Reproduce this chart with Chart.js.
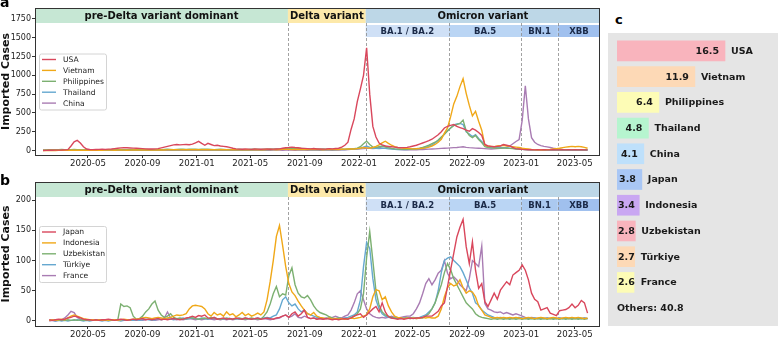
<!DOCTYPE html>
<html><head><meta charset="utf-8">
<script src="https://cdn.jsdelivr.net/npm/chart.js@4.4.1/dist/chart.umd.min.js"></script>
<style>
html,body{margin:0;padding:0;background:#fff}
body{width:778px;height:338px;position:relative;overflow:hidden;font-family:'DejaVu Sans',sans-serif}
canvas{position:absolute;display:block}
.pl{position:absolute;font-weight:bold;font-family:'DejaVu Sans';color:#000;line-height:16px;font-size:14px}
#cbox{position:absolute;left:608px;top:33px;width:170px;height:293px;background:#e5e5e5}
</style></head><body>
<canvas id="ca" width="605" height="172" style="left:0;top:0"></canvas>
<canvas id="cb" width="605" height="166" style="left:0;top:172px"></canvas>
<div id="cbox"></div>
<canvas id="cc" width="170" height="293" style="left:608px;top:33px"></canvas>
<div class="pl" style="left:0;top:-6px">a</div>
<div class="pl" style="left:0;top:172px">b</div>
<div class="pl" style="left:615px;top:12px;font-size:13px">c</div>
<script>
// ---------- data ----------
const START_DAY = '2020-01-21';          // first weekly observation
const xTickMonths = ['2020-05','2020-09','2021-01','2021-05','2021-09','2022-01','2022-05','2022-09','2023-01','2023-05'];
const yTicksA = [0,250,500,750,1000,1250,1500,1750];
const yTicksB = [0,50,100,150,200];

const phaseNames  = ['pre-Delta variant dominant','Delta variant','Omicron variant'];
const phaseStarts = ['2020-01-01','2021-07-25','2022-01-16'];
const subNames    = ['BA.1 / BA.2','BA.5','BN.1','XBB'];
const subStarts   = ['2022-01-16','2022-07-22','2023-01-01','2023-03-24'];

const namesA = ['USA','Vietnam','Philippines','Thailand','China'];
const namesB = ['Japan','Indonesia','Uzbekistan','Türkiye','France'];

const usa = [0,2,3,3,5,5,6,8,12,60, 115,135,100,50,20,14,12,14,15,16, 15,18,20,25,30,35,38,36,34,32, 30,28,25,22,20,20,22,25,35,45,
 55,65,75,80,75,78,80,76,85,100, 122,95,70,95,80,65,70,60,55,50, 42,30,22,18,16,20,18,15,20,18, 16,18,20,16,18,20,22,30,36,40,
 45,40,36,30,28,25,22,26,20,22, 18,20,25,22,26,30,45,70,110,280, 420,650,820,1000,1365,750,320,180,100,75, 60,55,50,45,40,36,38,42,50,60,
 70,85,100,115,130,150,180,210,250,300, 322,335,345,320,305,290,270,256,290,270, 240,200,80,60,55,50,55,60,80,70, 60,40,25,20,15,12,10,10,8,10,
 8,10,8,8,10,8,8,10,8,10, 8,10,8,10,8,8];
const vietnam = [0,0,0,0,0,1,2,2,3,3, 4,5,4,3,3,4,5,4,3,4, 5,6,5,4,5,6,5,4,5,6, 6,5,6,7,6,5,6,8,7,6,
 8,10,12,10,8,10,12,10,9,10, 12,10,9,10,12,10,8,10,12,10, 8,9,10,8,9,10,12,10,8,10, 12,10,12,14,12,10,12,15,18,15,
 12,14,16,14,12,14,15,12,14,12, 10,12,14,12,15,14,16,18,20,22, 20,25,30,40,35,30,40,55,75,100, 123,95,70,50,40,35,30,28,25,22,
 24,26,30,35,45,60,80,110,150,230, 300,450,620,720,850,955,760,600,460,520, 390,270,70,60,55,50,60,65,70,60, 55,50,45,40,30,25,20,15,12,10,
 12,10,12,15,20,25,30,38,45,50, 55,50,55,50,42,30];
const philippines = [5,8,10,12,10,12,14,12,10,12, 14,12,10,8,10,12,10,8,10,12, 12,10,8,10,12,14,12,10,12,14, 12,10,12,14,12,10,12,14,12,15,
 16,14,12,15,18,16,14,16,18,16, 14,16,18,16,14,12,14,16,14,12, 14,12,14,16,14,12,14,16,18,16, 14,16,18,20,18,20,22,20,25,28,
 30,28,25,28,25,22,20,22,20,18, 20,18,16,18,20,18,16,18,20,22, 25,30,50,90,125,80,45,40,50,60, 45,35,28,22,18,16,15,16,18,20,
 25,30,40,55,70,90,110,140,180,215, 260,300,330,345,360,405,260,200,172,200, 146,106,50,40,35,32,30,32,35,30, 28,25,20,18,15,12,12,10,10,10,
 8,10,8,8,10,8,8,10,8,8, 8,10,8,8,10,8];
const thailand = [3,4,5,6,5,6,8,6,5,6, 8,6,5,6,5,6,8,6,5,6, 6,5,6,8,6,5,6,8,6,5, 6,8,6,5,6,8,6,5,6,8,
 8,10,8,6,8,10,8,6,8,10, 8,6,8,10,8,6,8,10,8,6, 8,10,8,6,8,10,8,6,8,10, 10,12,10,12,14,12,15,18,20,18,
 16,15,14,12,14,12,10,12,10,12, 10,12,10,12,10,12,14,12,15,18, 20,22,30,45,60,40,30,28,25,30, 28,22,18,15,14,12,12,14,15,18,
 20,25,30,40,55,75,100,130,170,220, 265,300,340,355,360,345,250,220,185,210, 160,120,70,45,40,38,36,40,38,35, 30,28,22,18,15,12,10,10,8,8,
 8,6,8,6,8,6,8,6,8,6, 8,6,8,6,8,6];
const china = [2,3,3,4,3,2,3,2,2,3, 3,2,2,3,2,2,3,2,2,3, 2,2,3,2,2,3,2,2,3,2, 2,3,2,2,3,2,2,3,2,2,
 3,2,3,4,3,2,3,4,3,2, 3,4,3,2,3,4,3,2,3,4, 3,2,3,4,3,2,3,4,3,2, 3,4,5,4,5,6,5,4,5,6,
 5,4,5,6,5,4,5,6,5,4, 5,6,5,4,5,6,8,10,12,15, 18,20,22,25,30,28,25,30,40,50, 58,40,25,18,15,12,10,10,12,10,
 10,12,14,16,18,20,22,25,28,30, 32,35,38,40,45,50,42,38,35,32, 30,28,25,22,20,22,25,28,32,40, 60,90,120,145,400,862,420,170,110,80,
 65,55,48,40,30,25,20,15,12,12, 10,10,8,8,6,6];

const japan = [null,null,2,1,2,3,2,3,5,6, 8,7,5,3,2,2,1,2,1,2, 2,3,2,1,2,3,2,1,2,3, 2,3,4,2,3,2,3,4,2,3,
 2,3,4,3,2,3,5,6,8,6, 9,8,10,5,4,6,3,4,5,3, 4,3,5,4,3,5,4,3,4,5, 3,4,5,4,3,5,6,8,10,6,
 12,15,8,12,18,6,4,5,3,4, 3,4,3,2,3,2,3,4,3,5, 8,10,12,6,10,15,20,24,15,30, 15,7,5,4,3,4,3,4,5,4,
 5,5,6,8,8,8,12,16,25,30, 57,85,112,139,155,168,123,95,131,84, 54,62,32,24,35,46,36,51,58,65, 60,76,80,84,93,84,68,46,36,32,
 18,20,22,13,11,9,17,18,19,22, 28,22,26,34,30,13];
const indonesia = [null,null,1,2,1,2,3,2,5,8, 10,8,6,4,3,2,2,1,2,1, 2,1,2,2,1,2,3,2,2,3, 3,4,5,6,5,4,5,6,5,4,
 5,6,8,10,9,10,12,20,25,26, 25,24,20,12,8,14,10,12,8,15, 10,12,7,10,14,9,12,8,10,13, 10,15,35,65,100,140,158,125,90,62,
 48,42,33,25,18,12,10,14,8,6, 5,4,5,3,4,3,4,3,4,5, 4,5,6,8,10,20,40,52,50,35, 40,25,15,8,6,5,4,5,4,5,
 4,5,6,5,6,5,5,8,20,40, 55,62,58,60,68,55,46,50,48,40, 25,18,10,8,6,5,6,5,6,5, 6,5,6,5,4,5,6,5,4,5,
 6,5,4,5,6,5,4,5,6,5, 6,5,6,5,4,5];
const uzbekistan = [null,null,1,1,2,1,2,1,2,1, 2,1,2,1,1,2,1,2,1,2, 1,2,1,2,1,28,24,25,22,8, 3,4,8,15,20,28,33,18,10,6,
 8,12,6,4,5,3,4,6,5,4, 3,4,5,4,6,5,4,3,4,5, 4,3,4,5,4,3,4,5,4,3, 3,8,15,28,45,57,40,45,43,75,
 88,60,46,40,38,42,35,25,18,14, 12,10,7,5,4,5,4,3,4,5, 8,12,20,45,105,148,100,50,26,15, 10,8,6,5,4,5,4,5,4,5,
 4,5,5,8,12,20,30,45,60,80, 95,85,70,60,50,40,30,25,20,12, 8,6,5,4,3,4,3,4,3,4, 3,4,3,4,3,4,3,4,3,4,
 3,4,3,4,3,4,3,4,3,4, 3,4,3,4,3,4];
const turkiye = [null,null,1,1,0,1,0,1,0,1, 1,2,1,0,1,0,1,2,1,0, 1,0,1,2,1,0,1,2,1,1, 2,1,2,3,2,1,2,3,2,3,
 4,3,2,3,4,5,3,4,5,4, 3,5,4,3,4,5,4,3,4,3, 4,3,4,3,4,5,4,3,4,5, 4,5,6,5,8,10,20,35,40,30,
 25,28,20,15,18,12,10,8,6,5, 4,5,4,3,4,5,4,5,6,8, 10,15,35,90,130,120,70,35,20,12, 8,6,5,6,5,4,5,6,5,6,
 5,6,8,10,15,20,30,50,80,100, 104,106,100,95,90,80,68,55,46,30, 26,18,14,10,8,6,5,6,5,4, 5,4,5,6,5,4,5,4,5,4,
 5,4,5,4,5,4,5,4,5,4, 5,4,5,4,5,4];
const france = [null,null,0,1,0,1,2,5,10,16, 14,6,3,2,1,2,1,2,1,1, 2,1,1,2,1,2,1,1,2,1, 1,2,1,2,3,2,1,2,3,5,
 15,5,3,2,3,2,3,4,3,2, 3,2,3,4,3,2,3,2,3,2, 3,2,3,4,3,2,3,4,3,2, 3,4,3,2,3,4,5,8,10,6,
 8,12,6,5,8,6,4,5,3,4, 3,4,5,6,8,6,5,8,10,18, 30,45,50,35,20,12,8,6,5,6, 5,6,8,6,5,6,7,8,8,12,
 20,30,45,62,70,60,68,79,84,100, 79,70,73,68,60,55,50,70,100,95, 90,124,29,20,18,15,14,15,12,14, 12,10,12,10,8,6,5,6,5,4,
 5,4,5,4,5,4,5,4,5,4, 5,4,5,4,5,4];

const shareCountries = ['USA','Vietnam','Philippines','Thailand','China','Japan','Indonesia','Uzbekistan','Türkiye','France'];
const shareValues    = [16.5,11.9,6.4,4.8,4.1,3.8,3.4,2.8,2.7,2.6];
const othersLabel = 'Others';
const othersValue = 40.8;

// ---------- styles ----------
const lineColors = ['#d9475c','#f0a818','#7cb071','#65a8d0','#a97cb3'];
const phaseColors = ['#c6e7d4','#fde9aa','#bdd7e7'];
const subColors = ['#cfe0f6','#bad5f4','#abc9f0','#a0c0ee'];
const shareColors = ['#f9b4bd','#fdd9b6','#fdfcb6','#b6f5cf','#bee0fb','#a9c7f5','#c9a7f2','#f9b4bd','#fdd9b6','#fdfcb6'];

Chart.defaults.font.family = "'DejaVu Sans'";
Chart.defaults.color = '#222';

function dayOf(s){const p=s.split('-').map(Number);return (Date.UTC(p[0],p[1]-1,p[2]||1)-Date.UTC(2020,0,1))/864e5;}
const startDay = dayOf(START_DAY);
const X_MIN = 2, X_MAX = 1273;

const decor = {
  id:'decor',
  beforeDatasetsDraw(chart, args, o){
    const {ctx, chartArea:a, scales:{x}} = chart;
    const H1=15, G=2, H2=12;
    ctx.save();
    const px = s => Math.max(a.left, Math.min(a.right, x.getPixelForValue(dayOf(s))));
    phaseNames.forEach((n,k)=>{
      const x0=px(phaseStarts[k]); const x1=k<phaseNames.length-1?px(phaseStarts[k+1]):a.right;
      ctx.fillStyle=phaseColors[k]; ctx.fillRect(x0,a.top,x1-x0,H1);
      ctx.fillStyle='#111'; ctx.font="bold 10px 'DejaVu Sans'"; ctx.textAlign='center'; ctx.textBaseline='middle';
      ctx.fillText(n,(x0+x1)/2,a.top+H1/2+0.5);
    });
    subNames.forEach((n,k)=>{
      const x0=px(subStarts[k]); const x1=k<subNames.length-1?px(subStarts[k+1]):a.right;
      ctx.fillStyle=subColors[k]; ctx.fillRect(x0,a.top+H1+G,x1-x0,H2);
      ctx.fillStyle='#1b2a48'; ctx.font="bold 8.5px 'DejaVu Sans'"; ctx.textAlign='center'; ctx.textBaseline='middle';
      ctx.fillText(n,(x0+x1)/2,a.top+H1+G+H2/2+0.5);
    });
    const seps=[phaseStarts[1],phaseStarts[2],subStarts[1],subStarts[2],subStarts[3]];
    ctx.strokeStyle='#8a8a8a'; ctx.lineWidth=0.8; ctx.setLineDash([3,2]);
    seps.forEach(s=>{const xx=Math.round(px(s))+0.5; ctx.beginPath(); ctx.moveTo(xx,a.top+H1); ctx.lineTo(xx,a.bottom); ctx.stroke();});
    ctx.restore();
  },
  afterDatasetsDraw(chart, args, o){
    const {ctx, chartArea:a} = chart;
    const names=o.names;
    const w=67,h=56,row=10.9;
    const x0=a.left+4, y0=(a.top+a.bottom)/2-h/2;
    ctx.save();
    ctx.beginPath(); ctx.roundRect(x0+0.5,y0+0.5,w,h,2);
    ctx.fillStyle='rgba(255,255,255,0.85)'; ctx.fill();
    ctx.strokeStyle='#d4d4d4'; ctx.lineWidth=1; ctx.stroke();
    ctx.font="7.6px 'DejaVu Sans'"; ctx.textBaseline='middle'; ctx.textAlign='left';
    names.forEach((n,i)=>{
      const y=y0+6+row*i;
      ctx.strokeStyle=lineColors[i]; ctx.lineWidth=1.4; ctx.beginPath(); ctx.moveTo(x0+3,y); ctx.lineTo(x0+17,y); ctx.stroke();
      ctx.fillStyle='#222'; ctx.fillText(n,x0+24,y+0.5);
    });
    ctx.restore();
  },
  afterDraw(chart){
    const {ctx, chartArea:a} = chart;
    ctx.save(); ctx.strokeStyle='#333'; ctx.lineWidth=1;
    ctx.strokeRect(Math.round(a.left)+0.5,Math.round(a.top)+0.5,Math.round(a.right-a.left)-1,Math.round(a.bottom-a.top));
    ctx.restore();
  }
};

function makeLine(id, names, series, yMin, yMax, yTicks, padTop, xAxisH){
  new Chart(document.getElementById(id), {
    type:'line',
    data:{datasets: series.map((vals,k)=>({
      label:names[k], data: vals.map((v,i)=>({x:startDay+7*i,y:v})),
      borderColor:lineColors[k], borderWidth:1.4, pointRadius:0, tension:0, fill:false
    }))},
    options:{
      responsive:false, animation:false, devicePixelRatio:1,
      layout:{padding:{top:padTop,right:5,left:0,bottom:0}},
      plugins:{legend:{display:false}, tooltip:{enabled:false}, decor:{names}},
      scales:{
        x:{type:'linear', min:X_MIN, max:X_MAX,
          afterBuildTicks:s=>{s.ticks=xTickMonths.map(m=>({value:dayOf(m)}));},
          afterFit:s=>{s.height=xAxisH;},
          ticks:{autoSkip:false,maxRotation:0,padding:1,font:{size:8.6},color:'#222',callback:(v,i)=>xTickMonths[i]},
          grid:{drawOnChartArea:false,drawTicks:true,tickLength:3,tickColor:'#333'},
          border:{display:false}},
        y:{min:yMin,max:yMax,
          afterBuildTicks:s=>{s.ticks=yTicks.map(v=>({value:v}));},
          afterFit:s=>{s.width=35;},
          ticks:{padding:1,font:{size:8},color:'#222',callback:v=>String(v)},
          grid:{drawOnChartArea:false,drawTicks:true,tickLength:3,tickColor:'#333'},
          border:{display:false},
          title:{display:true,text:'Imported Cases',font:{size:11,weight:'bold'},color:'#111',padding:{top:0,bottom:0}}}
      }
    },
    plugins:[decor]
  });
}

makeLine('ca', namesA, [usa,vietnam,philippines,thailand,china], -60, 1896, yTicksA, 8, 17);
makeLine('cb', namesB, [japan,indonesia,uzbekistan,turkiye,france], -8.3, 230, yTicksB, 10, 12);

// ---------- panel c ----------
const shareLabels = shareCountries.concat([othersLabel]);
const shareData = shareValues.concat([null]);
const shareText = {
  id:'shareText',
  afterDatasetsDraw(chart){
    const {ctx, chartArea:a} = chart;
    const meta = chart.getDatasetMeta(0);
    ctx.save();
    ctx.font="bold 9.5px 'DejaVu Sans'"; ctx.fillStyle='#1a1a1a'; ctx.textBaseline='middle'; ctx.textAlign='left';
    shareValues.forEach((v,i)=>{
      const bar=meta.data[i]; const t=v.toFixed(1); const w=ctx.measureText(t).width;
      const right=Math.max(bar.x-6, bar.base+w+1);
      ctx.fillText(t,right-w,bar.y+0.5);
      ctx.fillText(shareCountries[i], Math.max(bar.x,right)+6, bar.y+0.5);
    });
    const yo = chart.scales.y.getPixelForValue(shareValues.length);
    ctx.fillText(othersLabel+': '+othersValue.toFixed(1), a.left, yo+0.5);
    ctx.restore();
  }
};
new Chart(document.getElementById('cc'), {
  type:'bar',
  data:{labels:shareLabels, datasets:[{data:shareData, backgroundColor:shareColors, borderWidth:0, barThickness:20}]},
  options:{
    indexAxis:'y', responsive:false, animation:false, devicePixelRatio:1,
    layout:{padding:{left:9,right:0,top:5,bottom:5}},
    plugins:{legend:{display:false},tooltip:{enabled:false}},
    scales:{x:{display:false,min:0,max:24.6},y:{display:false}}
  },
  plugins:[shareText]
});
</script>
</body></html>
